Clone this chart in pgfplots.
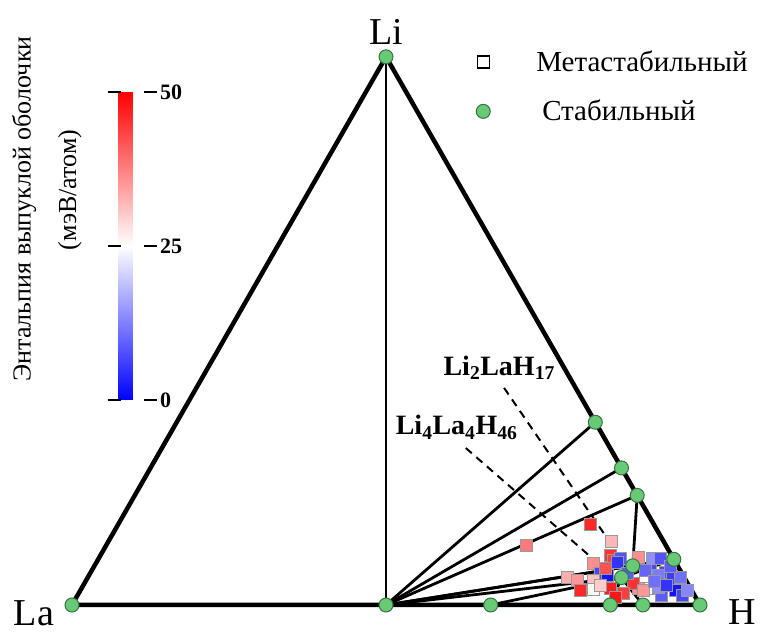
\documentclass[border=0pt]{standalone}
\usepackage{pgfplots}
\usepackage{pgfplotstable}
\pgfplotsset{compat=1.18}
\usepackage{fontspec}
\setmainfont{Liberation Serif}

\definecolor{stablegreen}{RGB}{104,201,118}
\definecolor{stableedge}{RGB}{55,115,65}

% Metastable phases: ternary position (x, y in the La-H-Li triangle) and
% energy above the hull in meV/atom
\pgfplotstableread{
x y e
0.825 0.128 46
0.723 0.095 38
0.858 0.101 32
0.857 0.079 45
0.861 0.070 44
0.873 0.074 8
0.830 0.066 36
0.841 0.051 7
0.852 0.047 2
0.788 0.044 33
0.804 0.039 35
0.830 0.039 31
0.809 0.024 46
0.830 0.025 26
0.857 0.027 47
0.901 0.076 36
0.924 0.074 14
0.936 0.074 8
0.920 0.055 7
0.944 0.052 7
0.933 0.047 12
0.955 0.043 6
0.960 0.024 2
0.971 0.016 7
0.920 0.027 25
0.901 0.027 36
0.893 0.035 45
0.939 0.016 9
0.933 0.028 14
0.877 0.019 44
0.909 0.024 35
0.968 0.044 11
0.979 0.024 13
0.865 0.013 48
0.868 0.068 5
0.912 0.055 10
0.946 0.032 5
0.841 0.032 30
0.884 0.051 9
0.849 0.058 42
0.952 0.062 9
0.927 0.038 11
}\metastable

% Stable phases on the convex hull
\pgfplotstableread{
x y
0.0 0.0
1.0 0.0
0.5 0.8660
0.5 0.0
0.6667 0.0
0.8571 0.0
0.9091 0.0
0.8333 0.2887
0.875 0.2165
0.9 0.1732
0.9583 0.0722
0.8929 0.0619
0.875 0.0433
}\stable

\newcommand{\tie}[4]{\addplot[tieline] coordinates {(#1,#2) (#3,#4)};}

\begin{document}
\begin{tikzpicture}
\begin{axis}[
  width=763pt, height=632pt, scale only axis,
  xmin=-0.11465, xmax=1.10032,
  ymin=-0.04265, ymax=0.95577,
  hide axis, clip=false,
  colormap={bwr}{rgb255=(0,0,255) rgb255=(255,255,255) rgb255=(255,0,0)},
  point meta min=0, point meta max=50,
  tieline/.style={black, line width=2.8pt, line cap=round, forget plot},
  colorbar,
  colorbar style={
    at={(parent axis.north west)}, anchor=north west,
    xshift=110pt, yshift=-92pt,
    width=23pt, height=308pt, scale only axis,
    ytick={0,25,50},
    yticklabel pos=right,
    axis line style={draw=none},
    major tick length=13pt,
    tick align=outside,
    tick style={black, line width=1.5pt, xshift=2pt},
    yticklabel style={font=\bfseries\fontsize{22}{24}\selectfont, xshift=2pt},
    /pgf/number format/assume math mode=true,
  },
  legend style={draw=none, fill=none, at={(0.62,0.926)}, anchor=north west,
    font=\fontsize{29}{32}\selectfont, row sep=23pt,
    /tikz/every odd column/.append style={column sep=44pt}},
  legend cell align=left,
]
% metastable structures, coloured by distance to the hull
\addplot[scatter, only marks, mark=square*, mark size=6pt,
  point meta=explicit, forget plot,
  scatter/use mapped color={draw=black!40, fill=mapped color}]
  table[x=x, y=y, meta=e] {\metastable};

% tie lines of the hull
\tie{0.5}{0.866}{0.5}{0}
\tie{0.5}{0}{0.8333}{0.2887}
\tie{0.5}{0}{0.875}{0.2165}
\tie{0.5}{0}{0.9}{0.1732}
\tie{0.5}{0}{0.9583}{0.0722}
\tie{0.5}{0}{0.8929}{0.0619}
\tie{0.5}{0}{0.875}{0.0433}
\tie{0.6667}{0}{0.875}{0.0433}
\tie{0.8929}{0.0619}{0.9583}{0.0722}
\tie{0.875}{0.0433}{0.9583}{0.0722}
\tie{0.8929}{0.0619}{0.875}{0.0433}
\tie{0.8929}{0.0619}{0.9}{0.1732}
\tie{0.875}{0.0433}{0.8571}{0}
\tie{0.875}{0.0433}{0.9091}{0}

% triangle edges
\addplot[black, line width=4.5pt, line join=round, forget plot]
  coordinates {(0,0) (1,0) (0.5,0.866) (0,0)};

% pointers from the compound labels
\addplot[black, line width=2pt, dash pattern=on 8pt off 6pt, forget plot]
  coordinates {(0.688,0.343) (0.865,0.087)};
\addplot[black, line width=2pt, dash pattern=on 8pt off 6pt, forget plot]
  coordinates {(0.627,0.248) (0.841,0.063)};

% stable phases
\addplot[only marks, mark=*, mark size=7pt, draw=stableedge, fill=stablegreen,
  line width=1pt, forget plot] table[x=x, y=y] {\stable};

\addlegendimage{only marks, mark=square, mark size=6pt, black, line width=1.2pt}
\addlegendentry{Метастабильный}
\addlegendimage{only marks, mark=*, mark size=7pt, draw=stableedge, fill=stablegreen, line width=1pt}
\addlegendentry{\hspace{6pt}Стабильный}

\node[font=\fontsize{38}{42}\selectfont] at (axis cs:0.5,0.905) {Li};
\node[font=\fontsize{38}{42}\selectfont] at (axis cs:-0.0605,-0.0126) {La};
\node[font=\fontsize{38}{42}\selectfont] at (axis cs:1.067,-0.011) {H};

\node[anchor=base west, font=\bfseries\fontsize{28}{30}\selectfont]
  at (axis cs:0.586,0.363) {Li\textsubscript{2}LaH\textsubscript{17}};
\node[anchor=base west, font=\bfseries\fontsize{28}{30}\selectfont]
  at (axis cs:0.510,0.269) {Li\textsubscript{4}La\textsubscript{4}H\textsubscript{46}};

\node[rotate=90, font=\fontsize{26}{30}\selectfont]
  at (axis cs:-0.0764,0.6256) {Энтальпия выпуклой оболочки};
\node[rotate=90, font=\fontsize{26}{30}\selectfont]
  at (axis cs:-0.0032,0.6556) {(мэВ/атом)};
\end{axis}
\pgfresetboundingbox
\path (current axis.south west) rectangle (current axis.north east);
\end{tikzpicture}
\end{document}
